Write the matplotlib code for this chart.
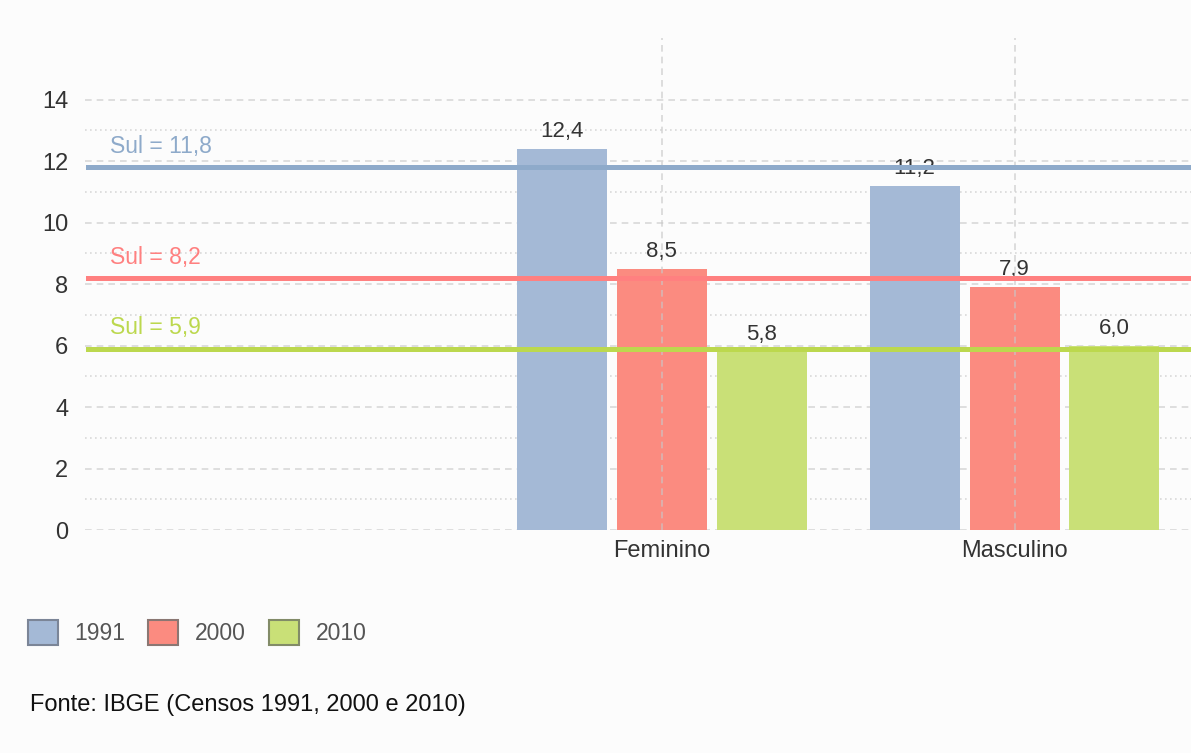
import matplotlib.pyplot as plt
from matplotlib.patches import Patch
from matplotlib.ticker import MultipleLocator

plt.rcParams['font.family'] = ['Liberation Sans', 'DejaVu Sans']

# data
categories = ['Feminino', 'Masculino']
years = ['1991', '2000', '2010']
values = {
    '1991': [12.4, 11.2],
    '2000': [8.5, 7.9],
    '2010': [5.8, 6.0],
}
sul_ref = {'1991': 11.8, '2000': 8.2, '2010': 5.9}
source = 'Fonte: IBGE (Censos 1991, 2000 e 2010)'

bar_colors = {'1991': '#a4b9d6', '2000': '#fb8b80', '2010': '#c9e077'}
line_colors = {'1991': '#8eaaca', '2000': '#ff8080', '2010': '#bcd84e'}
edge_colors = {'1991': '#7b8597', '2000': '#8a7773', '2010': '#828b68'}

fig = plt.figure(figsize=(11.91, 7.53), dpi=100, facecolor='#fcfcfc')
ax = fig.add_axes([0.0714, 0.296, 0.9286, 0.6535])
ax.set_facecolor('none')

x_pos = [1, 2]
width = 0.255
step = 0.283

for i, yr in enumerate(years):
    xs = [x + (i - 1) * step for x in x_pos]
    ax.bar(xs, values[yr], width=width, color=bar_colors[yr], zorder=2)
    for x, v in zip(xs, values[yr]):
        ax.annotate(f'{v:.1f}'.replace('.', ','), (x, v), xytext=(0, 5),
                    textcoords='offset points', ha='center', va='bottom',
                    fontsize=16, color='#333333', zorder=3)

# Sul reference lines
for yr in years:
    v = sul_ref[yr]
    ax.axhline(v, xmin=0.003, xmax=1, color=line_colors[yr], lw=3.6, zorder=4)
    ax.text(0.0226, v + 0.3, f'Sul = {v:.1f}'.replace('.', ','),
            transform=ax.get_yaxis_transform(), color=line_colors[yr],
            fontsize=16.5, ha='left', va='bottom', zorder=4)

ax.set_xlim(-0.634, 2.5)
ax.set_ylim(0, 16)
ax.set_yticks(range(0, 15, 2))
ax.yaxis.set_minor_locator(MultipleLocator(1))
ax.set_xticks(x_pos)
ax.set_xticklabels(categories)

# grid
for y in range(0, 15, 2):
    ax.axhline(y, color='#d9d9d9', lw=1.2, ls=(0, (4, 3)), zorder=1)
for y in range(1, 15, 2):
    ax.axhline(y, color='#d9d9d9', lw=1.2, ls=(0, (1, 2)), zorder=1)
for x in x_pos:
    ax.axvline(x, color='#c8c8c8', lw=1.2, ls=(0, (4, 3)), alpha=0.7, zorder=2.5)

for s in ax.spines.values():
    s.set_visible(False)
ax.tick_params(axis='both', length=0, labelsize=17, colors='#333333')
ax.tick_params(axis='y', pad=12)
ax.tick_params(axis='x', pad=7)
ax.tick_params(which='minor', length=0)

handles = [Patch(facecolor=bar_colors[yr], edgecolor=edge_colors[yr], lw=1.5, label=yr)
           for yr in years]
fig.legend(handles=handles, loc='center left', bbox_to_anchor=(0.006, 0.16),
           ncol=3, frameon=False, fontsize=16.5, labelcolor='#555555',
           handlelength=1.3, handleheight=1.3, handletextpad=0.74,
           columnspacing=1.0)

fig.text(0.025, 0.064, source, fontsize=17, color='#111111', ha='left', va='center')

fig.savefig('out.png', dpi=100, facecolor=fig.get_facecolor())
